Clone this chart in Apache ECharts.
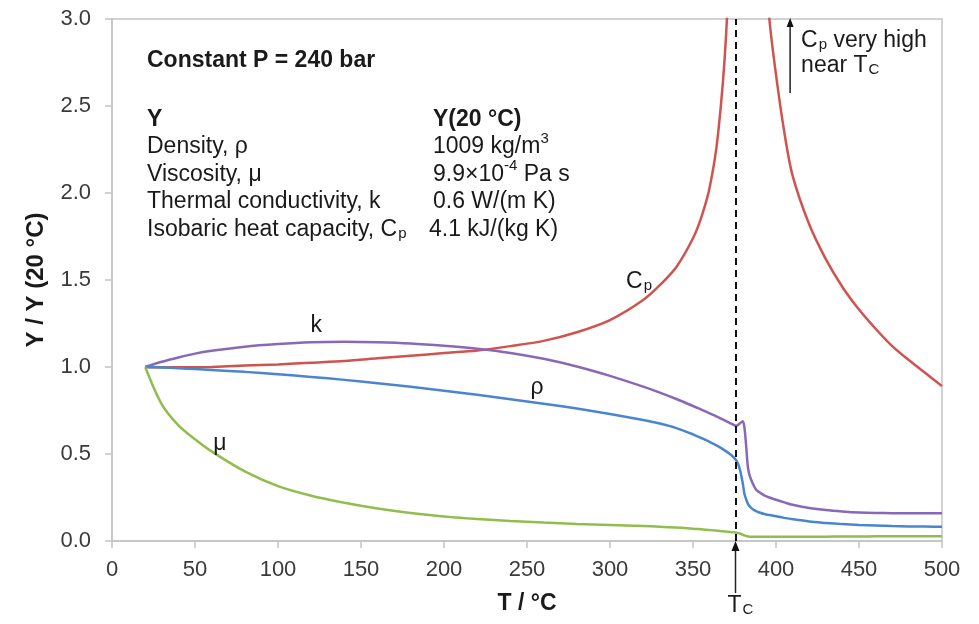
<!DOCTYPE html>
<html>
<head>
<meta charset="utf-8">
<script src="https://cdn.jsdelivr.net/npm/echarts@6/dist/echarts.min.js"></script>
<style>
html,body{margin:0;padding:0;background:#fff;}
#main{width:979px;height:624px;}
</style>
</head>
<body>
<div id="main"></div>
<script>
// Temperature grid (°C)
const T = [20, 30, 40, 50, 60, 80, 100, 120, 140, 160, 180, 200, 220, 240, 260, 280, 300, 320, 330, 340, 350, 355, 360, 365, 370, 373, 376, 378, 380, 381, 382, 383, 384, 386, 388, 390, 393, 396, 400, 405, 410, 420, 430, 440, 450, 460, 470, 480, 490, 500];
// Y / Y(20 °C) values
const rho = [1.0, 0.997, 0.993, 0.988, 0.983, 0.972, 0.958, 0.943, 0.926, 0.907, 0.886, 0.864, 0.840, 0.815, 0.789, 0.761, 0.730, 0.695, 0.675, 0.649, 0.613, 0.592, 0.570, 0.545, 0.515, 0.494, 0.464, 0.42, 0.33, 0.27, 0.24, 0.215, 0.2, 0.183, 0.172, 0.164, 0.155, 0.149, 0.142, 0.133, 0.125, 0.112, 0.104, 0.097, 0.092, 0.089, 0.086, 0.084, 0.083, 0.082];
const mu = [1.0, 0.785, 0.665, 0.585, 0.515, 0.40, 0.315, 0.26, 0.22, 0.187, 0.161, 0.141, 0.126, 0.115, 0.106, 0.098, 0.092, 0.086, 0.082, 0.077, 0.071, 0.067, 0.063, 0.059, 0.054, 0.051, 0.047, 0.043, 0.036, 0.032, 0.029, 0.027, 0.025, 0.024, 0.024, 0.024, 0.024, 0.024, 0.024, 0.024, 0.024, 0.025, 0.025, 0.026, 0.026, 0.027, 0.027, 0.027, 0.028, 0.028];
const k = [1.0, 1.03, 1.055, 1.077, 1.093, 1.117, 1.132, 1.142, 1.145, 1.142, 1.135, 1.122, 1.105, 1.081, 1.047, 1.003, 0.949, 0.887, 0.853, 0.816, 0.776, 0.755, 0.734, 0.712, 0.689, 0.675, 0.662, 0.674, 0.688, 0.65, 0.55, 0.43, 0.38, 0.33, 0.295, 0.28, 0.262, 0.25, 0.237, 0.222, 0.208, 0.19, 0.178, 0.17, 0.164, 0.161, 0.16, 0.159, 0.159, 0.159];
const cp = [1.0, 0.998, 0.998, 0.999, 1.0, 1.008, 1.015, 1.025, 1.035, 1.05, 1.065, 1.08, 1.095, 1.12, 1.15, 1.2, 1.27, 1.385, 1.47, 1.575, 1.74, 1.86, 2.03, 2.33, 2.92, 3.8, 9, 14, 12, 10, 9, 8, 7, 5.5, 4.6, 4.0, 3.4, 3.0, 2.68, 2.35, 2.1, 1.82, 1.62, 1.46, 1.33, 1.22, 1.12, 1.04, 0.965, 0.89];
const TC = 375.6;
const xTicks = [0, 50, 100, 150, 200, 250, 300, 350, 400, 450, 500];
const yTicks = [0, 0.5, 1.0, 1.5, 2.0, 2.5, 3.0];

const FONT = '"Liberation Sans", Arial, sans-serif';
const C_RHO = '#4a86cf', C_MU = '#90be4c', C_K = '#8868b8', C_CP = '#d0534f';
const FS = 23;

function pairs(ys) { return T.map((t, i) => [t, ys[i]]); }

const chart = echarts.init(document.getElementById('main'), null, {renderer: 'canvas'});

function line(name, ys, color, extra) {
  return Object.assign({
    name: name, type: 'line', data: pairs(ys), showSymbol: false, symbol: 'none',
    smooth: 0.3, clip: true,
    lineStyle: {color: color, width: 2.5}, itemStyle: {color: color}, z: 3
  }, extra || {});
}

const option = {
  animation: false,
  backgroundColor: '#ffffff',
  textStyle: {fontFamily: FONT},
  grid: {left: 112, right: 37, top: 19, bottom: 83, show: true, borderColor: '#c4c4c4', borderWidth: 1.5, backgroundColor: 'transparent'},
  xAxis: {
    type: 'value', min: 0, max: 500, interval: 50,
    name: 'T / °C', nameLocation: 'middle', nameGap: 51,
    nameTextStyle: {fontFamily: FONT, fontSize: FS, fontWeight: 'bold', color: '#1a1a1a'},
    axisLine: {show: true, lineStyle: {color: '#c4c4c4', width: 1.5}},
    axisTick: {show: true, length: 7, lineStyle: {color: '#c4c4c4', width: 1.5}},
    axisLabel: {fontFamily: FONT, fontSize: 22, color: '#3a3a3a', margin: 18,
      formatter: v => String(v)},
    splitLine: {show: false}
  },
  yAxis: {
    type: 'value', min: 0, max: 3, interval: 0.5,
    name: 'Y / Y (20 °C)', nameLocation: 'middle', nameGap: 64, nameRotate: 90,
    nameTextStyle: {fontFamily: FONT, fontSize: 24, fontWeight: 'bold', color: '#1a1a1a'},
    axisLine: {show: true, lineStyle: {color: '#c4c4c4', width: 1.5}},
    axisTick: {show: true, length: 7, lineStyle: {color: '#c4c4c4', width: 1.5}},
    axisLabel: {fontFamily: FONT, fontSize: 22, color: '#3a3a3a', margin: 21,
      formatter: v => v.toFixed(1)},
    splitLine: {show: false}
  },
  series: [
    line('Cp', cp, C_CP),
    line('k', k, C_K),
    line('rho', rho, C_RHO),
    line('mu', mu, C_MU, {
      markLine: {
        silent: true, symbol: 'none', label: {show: false},
        lineStyle: {color: '#111111', type: [7, 5], width: 2},
        data: [{xAxis: TC}], z: 5
      }
    })
  ]
};
chart.setOption(option);

const P = (x, y) => chart.convertToPixel({gridIndex: 0}, [x, y]);

const rich = {
  b: {fontFamily: FONT, fontSize: FS, color: '#1a1a1a'},
  sub: {fontFamily: FONT, fontSize: 15, color: '#1a1a1a', lineHeight: 2, verticalAlign: 'bottom', padding: [0, 0, 0, 1]},
  sup: {fontFamily: FONT, fontSize: 15, color: '#1a1a1a', lineHeight: 32, verticalAlign: 'top'}
};
function txt(x, y, text, opts) {
  opts = opts || {};
  return {
    type: 'text', x: x, y: y, z: 10, silent: true,
    style: Object.assign({
      text: text, fontFamily: FONT, fontSize: opts.fontSize || FS,
      fontWeight: opts.fontWeight || 'normal', fill: '#1a1a1a',
      textAlign: opts.align || 'left', textVerticalAlign: 'middle', rich: opts.rich || rich
    }, opts.style || {})
  };
}

const col1 = 147, col2 = 433;
const rows = [120, 147, 174.5, 202, 229.5];
const tcTop = P(TC, 0);
const arrowX = P(408.5, 3)[0];
const graphics = [
  txt(col1, 61, 'Constant P = 240 bar', {fontWeight: 'bold'}),
  txt(col1, rows[0], 'Y', {fontWeight: 'bold'}),
  txt(col2, rows[0], 'Y(20 °C)', {fontWeight: 'bold'}),
  txt(col1, rows[1], '{b|Density, ρ}'),
  txt(col2, rows[1], '{b|1009 kg/m}{sup|3}'),
  txt(col1, rows[2], '{b|Viscosity, μ}'),
  txt(col2, rows[2], '{b|9.9×10}{sup|-4}{b| Pa s}'),
  txt(col1, rows[3], '{b|Thermal conductivity, k}'),
  txt(col2, rows[3], '{b|0.6 W/(m K)}'),
  txt(col1, rows[4], '{b|Isobaric heat capacity, C}{sub|p}'),
  txt(col2 - 4, rows[4], '{b|4.1 kJ/(kg K)}'),
  // curve labels
  txt(P(123, 1.24)[0], P(123, 1.24)[1], '{b|k}', {align: 'center'}),
  txt(P(256, 0.88)[0], P(256, 0.88)[1], '{b|ρ}', {align: 'center'}),
  txt(P(65, 0.56)[0], P(65, 0.56)[1], '{b|μ}', {align: 'center'}),
  txt(P(317.5, 1.49)[0], P(317.5, 1.49)[1], '{b|C}{sub|p}', {align: 'center'}),
  // Cp note
  txt(arrowX + 11, 41, '{b|C}{sub|p}{b| very high}'),
  txt(arrowX + 11, 66, '{b|near T}{sub|C}'),
  {type: 'line', silent: true, z: 10, shape: {x1: arrowX, y1: 93, x2: arrowX, y2: 26}, style: {stroke: '#222', lineWidth: 1.5}},
  {type: 'polygon', silent: true, z: 10, shape: {points: [[arrowX, 18], [arrowX - 3.5, 27], [arrowX + 3.5, 27]]}, style: {fill: '#111'}},
  // Tc arrow below axis
  {type: 'line', silent: true, z: 10, shape: {x1: tcTop[0], y1: 593, x2: tcTop[0], y2: tcTop[1] + 8}, style: {stroke: '#222', lineWidth: 1.5}},
  {type: 'polygon', silent: true, z: 10, shape: {points: [[tcTop[0], tcTop[1]], [tcTop[0] - 4, tcTop[1] + 10], [tcTop[0] + 4, tcTop[1] + 10]]}, style: {fill: '#111'}},
  txt(tcTop[0] + 5, 606, '{b|T}{sub|C}', {align: 'center'})
];
chart.setOption({graphic: graphics});
</script>
</body>
</html>
